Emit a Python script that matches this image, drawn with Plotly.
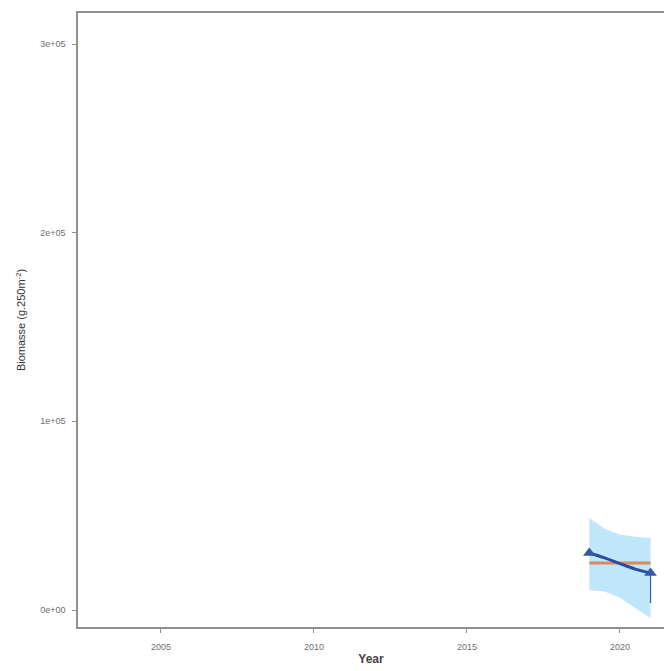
import plotly.graph_objects as go

# Observed yearly biomass
years = [2019, 2021]
biomass = [30200, 19600]
err_minus = [0, 15900]

# Smoothed trend (loess) with its confidence band
smooth_x = [2019, 2019.5, 2020, 2020.5, 2021]
smooth_y = [30200, 27600, 24600, 21700, 19600]
band_upper = [48700, 43000, 40000, 38800, 38200]
band_lower = [10600, 9800, 6500, 1000, -4300]

# Mean over the period
mean_x = [2019, 2021]
mean_y = [24900, 24900]

# Axis ticks
x_ticks = [2005, 2010, 2015, 2020]
y_ticks = [0, 100000, 200000, 300000]
y_tick_text = ["0e+00", "1e+05", "2e+05", "3e+05"]

fig = go.Figure()

fig.add_trace(go.Scatter(
    x=smooth_x + smooth_x[::-1],
    y=band_upper + band_lower[::-1],
    fill="toself", fillcolor="rgba(180,226,248,0.85)",
    line=dict(width=0), mode="lines", hoverinfo="skip", showlegend=False,
))

fig.add_trace(go.Scatter(
    x=mean_x, y=mean_y, mode="lines",
    line=dict(color="#D9895F", width=3), showlegend=False,
))

fig.add_trace(go.Scatter(
    x=smooth_x, y=smooth_y, mode="lines", line_shape="spline",
    line=dict(color="#2A4C9C", width=3), showlegend=False,
))

fig.add_trace(go.Scatter(
    x=years, y=biomass, mode="markers",
    marker=dict(symbol="triangle-up", size=11, color="#3558A8"),
    error_y=dict(type="data", symmetric=False, array=[0, 0],
                 arrayminus=err_minus, color="#3558A8", thickness=1.2, width=0),
    showlegend=False,
))

axis_common = dict(
    showgrid=False, zeroline=False, showline=True, linecolor="#8f8f8f",
    linewidth=1.5, ticks="outside", ticklen=4, tickcolor="#8f8f8f",
    tickfont=dict(family="Liberation Sans, Arial, sans-serif", size=9, color="#6e6e6e"),
)

fig.update_layout(
    width=664, height=671,
    margin=dict(l=78, r=0, t=13, b=44),
    paper_bgcolor="white", plot_bgcolor="white",
    xaxis=dict(
        **axis_common, range=[2002.29, 2021.44], tickvals=x_ticks,
        mirror=True, ticklabelstandoff=6,
        title=dict(text="<b>Year</b>", standoff=4,
                   font=dict(family="Liberation Sans, Arial, sans-serif", size=12, color="#444444")),
    ),
    yaxis=dict(
        **axis_common, range=[-9010, 316430], tickvals=y_ticks, ticktext=y_tick_text,
        ticklabelstandoff=5,
        title=dict(text="Biomasse (g.250m<sup>-2</sup>)", standoff=12,
                   font=dict(family="Liberation Sans, Arial, sans-serif", size=11, color="#333333")),
    ),
)

fig.write_html("out.html")
